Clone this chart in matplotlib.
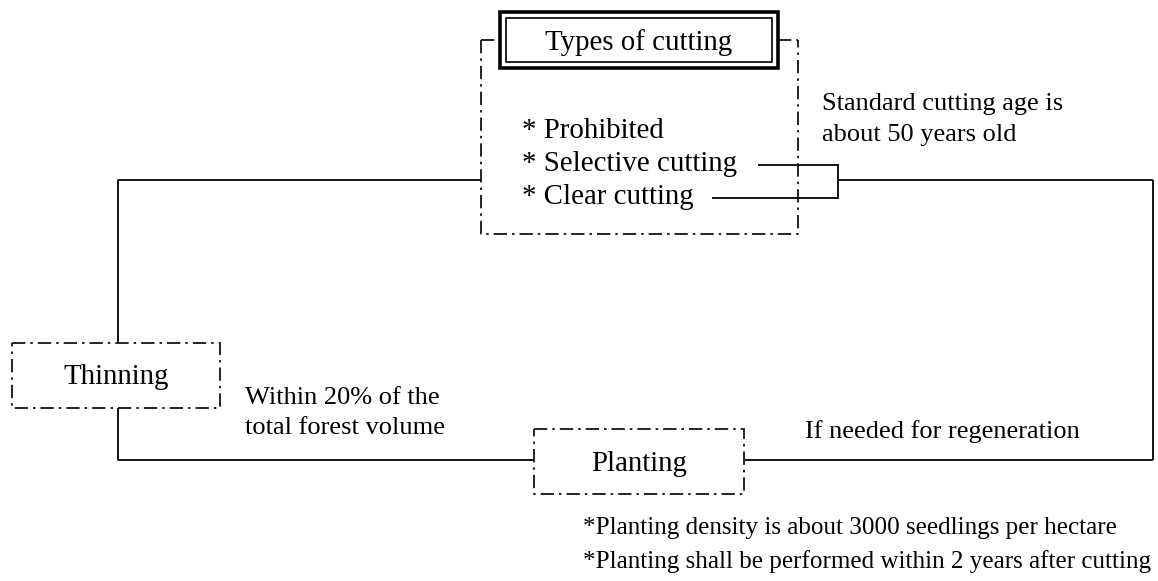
import matplotlib
matplotlib.use("Agg")
import matplotlib.pyplot as plt
from matplotlib.patches import Rectangle

plt.rcParams['font.family'] = ['Liberation Serif', 'DejaVu Serif']

# text content
title = "Types of cutting"
cut_types = ["* Prohibited", "* Selective cutting", "* Clear cutting"]
stages = ["Thinning", "Planting"]
note_age = ["Standard cutting age is", "about 50 years old"]
note_thin = ["Within 20% of the", "total forest volume"]
note_regen = "If needed for regeneration"
note_plant = ["*Planting density is about 3000 seedlings per hectare",
              "*Planting shall be performed within 2 years after cutting"]

W, H = 1158, 581
fig = plt.figure(figsize=(W / 100, H / 100), dpi=100)
ax = fig.add_axes([0, 0, 1, 1])
ax.set_xlim(0, W)
ax.set_ylim(H, 0)
ax.axis('off')

big = 20.8
small = 19
tiny = 18.1
dd = (0, (8, 3, 1.5, 3))


def dashbox(x0, y0, x1, y1):
    ax.add_patch(Rectangle((x0, y0), x1 - x0, y1 - y0, fill=False,
                           lw=1.2, ls=dd, color='k'))


def line(xs, ys):
    ax.plot(xs, ys, color='k', lw=1.3, solid_capstyle='butt')


# outer dash-dot box for cutting types (top edge broken by title)
ax.plot([481, 481, 798, 798], [40, 234, 234, 40], color='k', lw=1.2, ls=dd)
ax.plot([481, 500], [40, 40], color='k', lw=1.2, ls=dd)
ax.plot([778, 798], [40, 40], color='k', lw=1.2, ls=dd)

# double-framed title
ax.add_patch(Rectangle((500, 12), 278, 56, fill=False, lw=2.6, color='k'))
ax.add_patch(Rectangle((506, 18), 266, 44, fill=False, lw=1.2, color='k'))
ax.text(639, 43, title, fontsize=big, ha='center', va='center')

for i, t in enumerate(cut_types):
    ax.text(522, 131 + i * 33, t, fontsize=big, ha='left', va='center')

# bracket from selective / clear cutting
line([758, 838], [165, 165])
line([712, 838], [198, 198])
line([838, 838], [164, 199])
line([838, 1153], [180, 180])
line([1153, 1153], [180, 460])
line([745, 1153], [460, 460])

# left loop
line([481, 118, 118], [180, 180, 343])
line([118, 118, 534], [408, 460, 460])

# stage boxes
dashbox(12, 343, 220, 408)
ax.text(116, 377, stages[0], fontsize=big, ha='center', va='center')
dashbox(534, 429, 744, 494)
ax.text(639, 464, stages[1], fontsize=big, ha='center', va='center')

# notes
for i, t in enumerate(note_age):
    ax.text(822, 104 + i * 31, t, fontsize=small, ha='left', va='center')
for i, t in enumerate(note_thin):
    ax.text(245, 398 + i * 30, t, fontsize=small, ha='left', va='center')
ax.text(805, 432, note_regen, fontsize=small, ha='left', va='center')
for i, t in enumerate(note_plant):
    ax.text(583, 528 + i * 34, t, fontsize=tiny, ha='left', va='center')

fig.savefig("out.png", dpi=100, facecolor='white')
